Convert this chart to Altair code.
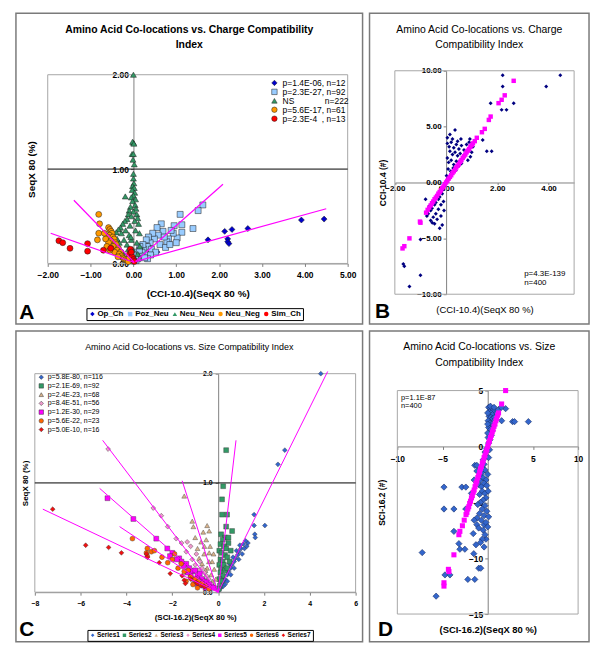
import altair as alt
import pandas as pd

FONT = "Liberation Sans"
MAG = "#ff00ff"
AXC = "#808080"
NB = "\u00a0"

# ================= Panel A data =================
A_series = ["Op_Ch", "Poz_Neu", "Neu_Neu", "Neu_Neg", "Sim_Ch"]
A_labels = ["p=1.4E-06, n=12", "p=2.3E-27, n=92", "NS" + NB * 13 + "n=222",
            "p=5.6E-17, n=61", "p=2.3E-4" + NB * 2 + ", n=13"]
A_colors = ["#0000cc", "#99ccff", "#339966", "#ff9900", "#ff0000"]
A_shapes = ["diamond", "square", "triangle-up", "circle", "circle"]
A_xticks = [-2, -1, 0, 1, 2, 3, 4, 5]
A_yticks = [0, 1, 2]

A_OpCh_x = [0.20, 0.37, 0.55, 1.74, 2.13, 2.20, 2.20, 2.23, 2.30, 2.67, 3.92, 4.45]
A_OpCh_y = [0.08, 0.20, 0.12, 0.25, 0.34, 0.26, 0.23, 0.21, 0.36, 0.37, 0.46, 0.47]

A_PozNeu_x = [1.62, 1.51, 1.39, 1.09, 1.13, 1.13, 1.02, 0.93, 0.82, 0.78, 0.69, 0.58, 0.49, 0.39, 0.32,
              0.24, 0.16, 0.12, 0.95, 0.88, 0.72, 0.65, 0.55, 0.45, 0.42, 0.35, 0.30, 0.28, 0.22, 0.20,
              0.18, 0.15, 0.10, 0.08, 0.06, 0.05, 0.62, 0.52, 0.75, 0.85, 1.00, 0.40, 0.33, 0.26, 0.14]
A_PozNeu_y = [0.62, 0.56, 0.37, 0.52, 0.41, 0.33, 0.27, 0.32, 0.26, 0.23, 0.34, 0.30, 0.26, 0.22, 0.18,
              0.15, 0.11, 0.06, 0.40, 0.35, 0.28, 0.42, 0.38, 0.32, 0.15, 0.28, 0.25, 0.10, 0.20, 0.12,
              0.08, 0.18, 0.05, 0.12, 0.03, 0.08, 0.20, 0.12, 0.17, 0.20, 0.22, 0.09, 0.05, 0.06, 0.14]

A_NeuNeu_x = [0.00, 0.00, -0.02, 0.01, -0.03, 0.00, 0.00, 0.02, -0.01, 0.00, 0.01, -0.02, 0.02, -0.03,
              0.03, 0.00, -0.05, 0.05, -0.02, 0.04, -0.07, 0.06, -0.10, 0.00, -0.12, 0.08, -0.05, 0.10,
              -0.15, -0.20, 0.03, -0.25, 0.12, -0.08, -0.19, -0.30, -0.35, -0.40, -0.45, -0.28, -0.18,
              -0.10, 0.05, 0.14, -0.22, -0.33, -0.15, -0.05, 0.08, 0.15, -0.12, -0.25, -0.02, 0.10,
              -0.08, 0.04, -0.17, -0.38, 0.00, -0.06]
A_NeuNeu_y = [2.00, 1.28, 1.29, 1.27, 1.16, 1.16, 0.95, 1.05, 1.10, 0.90, 0.85, 0.82, 0.80, 0.78,
              0.75, 0.72, 0.70, 0.68, 0.66, 0.62, 0.60, 0.58, 0.56, 0.55, 0.52, 0.52, 0.50, 0.48,
              0.47, 0.45, 0.45, 0.42, 0.42, 0.40, 0.71, 0.38, 0.36, 0.33, 0.28, 0.32, 0.35,
              0.30, 0.35, 0.32, 0.25, 0.22, 0.20, 0.25, 0.22, 0.18, 0.15, 0.12, 0.15, 0.10,
              0.08, 0.05, 0.06, 0.26, 0.03, 0.28]

A_NeuNeg_x = [-0.81, -0.79, -0.81, -0.84, -0.58, -0.55, -0.52, -0.50, -0.56, -0.60, -0.48, -0.45,
              -0.53, -0.58, -0.42, -0.40, -0.47, -0.52, -0.35, -0.38, -0.44, -0.30, -0.33, -0.28,
              -0.25, -0.36, -0.22, -0.18, -0.15, -0.12, -0.65, -0.62, -0.55, -0.68, -0.10]
A_NeuNeg_y = [0.52, 0.42, 0.32, 0.25, 0.38, 0.36, 0.34, 0.32, 0.30, 0.28, 0.28, 0.26,
              0.24, 0.22, 0.22, 0.20, 0.18, 0.16, 0.16, 0.14, 0.12, 0.12, 0.10, 0.08,
              0.06, 0.07, 0.05, 0.04, 0.03, 0.02, 0.26, 0.18, 0.14, 0.32, 0.06]

A_SimCh_x = [-1.74, -1.65, -1.48, -1.07, -1.07, -0.70, -0.53, -0.07, -0.09, -0.03, 0.00, -0.05, 0.02]
A_SimCh_y = [0.24, 0.22, 0.16, 0.21, 0.13, 0.14, 0.16, 0.15, 0.10, 0.07, 0.04, 0.12, 0.02]

A_line_g = ["Op_Ch", "Op_Ch", "Poz_Neu", "Poz_Neu", "Neu_Neg", "Neu_Neg", "Sim_Ch", "Sim_Ch"]
A_line_x = [0.05, 4.50, 0.05, 2.09, 0.02, -1.39, 0.02, -1.93]
A_line_y = [0.02, 0.58, 0.02, 0.84, 0.01, 0.67, 0.01, 0.32]

# ================= Panel B data =================
B_xticks = [-2, 0, 2, 4]
B_yticks = [-10, -5, 0, 5, 10]
B_navy_x = [4.46, 3.91, 2.21, 2.21, 2.17, 2.36, 2.64, 1.74, 0.35, 1.43, 1.59, 1.78, 0.58, 0.93, 1.05, 0.80, 0.70, 0.95,
            0.05, 0.12, 0.20, 0.30, 0.40, 0.50, 0.60, 0.15, 0.25, 0.35, 0.45, 0.55, 0.65, 0.75,
            0.05, 0.10, 0.20, 0.30, 0.40, 0.50, 0.60, 0.08, 0.18, 0.28, 0.38, 0.02, 0.12, 0.22,
            0.03, 0.10, 0.85, 1.00, 0.90, 0.25, 0.45, 0.05, 0.15,
            -0.05, -0.10, -0.15, -0.20, -0.25, -0.30, -0.35, -0.40, -0.45, -0.50, -0.55, -0.60, -0.65, -0.70, -0.75,
            -0.30, -0.20, -0.10, -0.40, -0.50, -0.35, -0.20, -0.60, -0.15, -0.25, -0.45, -0.08, -0.54,
            -1.00, -1.67, -1.63, -1.00, -1.43, -0.80]
B_navy_y = [9.6, 8.6, 9.6, 8.6, 6.5, 6.5, 7.1, 7.1, 4.7, 3.8, 2.8, 2.8, 3.9, 3.9, 3.2, 3.4, 2.9, 2.3,
            3.5, 3.2, 3.6, 3.1, 3.4, 3.0, 3.3, 2.8, 2.5, 2.7, 2.4, 2.6, 2.2, 2.5,
            2.2, 1.8, 2.0, 1.6, 1.9, 1.5, 1.7, 1.2, 1.0, 1.3, 1.1, 0.6, 0.5, 0.8,
            0.2, 0.3, 2.0, 2.7, 3.6, 3.9, 3.7, 4.0, 4.3,
            -0.3, -0.6, -1.0, -0.8, -1.3, -1.5, -1.2, -1.8, -2.0, -1.7, -2.3, -2.5, -2.1, -2.8, -3.0,
            -2.4, -2.0, -1.7, -2.8, -3.1, -3.3, -3.0, -3.4, -3.8, -4.1, -3.7, -2.5, -3.6,
            -5.1, -7.3, -7.5, -8.3, -9.3, -1.5]
B_mag_x = [-0.78, -0.72, -0.66, -0.60, -0.55, -0.50, -0.45, -0.40, -0.35, -0.30, -0.25, -0.20, -0.15,
           -0.10, -0.05, 0.00, 0.05, 0.10, 0.15, 0.20, 0.25, 0.30, 0.35, 0.40, 0.45, 0.50, 0.55, 0.60,
           0.65, 0.70, 0.75, 0.80, 0.85, 0.90, 0.95, 1.00, 1.05, 1.12,
           1.20, 1.40, 1.51, 1.67, 1.74, 2.05, 2.17, 2.29, 2.64, -1.00, -1.02, -1.43, -1.63, -1.70]
B_mag_y = [-2.7, -2.45, -2.25, -2.05, -1.85, -1.7, -1.5, -1.35, -1.2, -1.0, -0.85, -0.7, -0.5,
           -0.35, -0.15, 0.0, 0.15, 0.35, 0.5, 0.65, 0.85, 1.0, 1.15, 1.35, 1.5, 1.65, 1.85, 2.0,
           2.2, 2.35, 2.5, 2.7, 2.85, 3.0, 3.2, 3.35, 3.5, 3.7,
           4.0, 4.5, 4.8, 5.6, 5.9, 7.1, 7.4, 7.8, 9.1, -3.6, -3.5, -5.0, -5.7, -5.9]
B_note = ["p=4.3E-139", "n=400"]

# ================= Panel C data =================
C_series = ["Series1", "Series2", "Series3", "Series4", "Series5", "Series6", "Series7"]
C_labels = ["p=5.8E-80, n=116", "p=2.1E-69, n=92", "p=2.4E-23, n=68", "p=8.4E-51, n=56",
            "p=1.2E-30, n=29", "p=5.6E-22, n=23", "p=5.0E-10, n=16"]
C_colors = ["#3366cc", "#339966", "#d9b38c", "#ee99cc", "#ff00ff", "#ff6600", "#ee1111"]
C_shapes = ["diamond", "square", "triangle-up", "diamond", "square", "circle", "diamond"]
C_xticks = [-8, -6, -4, -2, 0, 2, 4, 6]
C_yticks = [0, 1, 2]

C_S1_x = [4.48, 2.91, 2.61, 1.57, 2.04, 1.57, 1.60, 1.62, 1.30, 1.20, 1.10, 1.00, 0.95, 0.90, 0.85, 0.80,
          0.75, 0.70, 0.65, 0.60, 0.55, 0.50, 0.45, 0.40, 0.35, 0.30, 0.25, 0.20, 0.15, 0.10, 0.05,
          1.05, 0.90, 0.70, 0.55, 0.40, 0.30, 0.20, 1.15, 1.25]
C_S1_y = [2.00, 1.30, 1.17, 0.71, 0.61, 0.61, 0.53, 0.50, 0.45, 0.47, 0.44, 0.40, 0.43, 0.37, 0.34, 0.38,
          0.31, 0.28, 0.32, 0.25, 0.22, 0.26, 0.19, 0.16, 0.20, 0.12, 0.10, 0.14, 0.06, 0.04, 0.02,
          0.35, 0.30, 0.22, 0.16, 0.10, 0.07, 0.05, 0.40, 0.42]
C_S2_x = [0.35, 0.22, 0.17, 0.17, 0.39, 0.35, 0.61, 0.13, 0.30, 0.20, 0.45, 0.10, 0.25, 0.35, 0.05,
          0.15, 0.30, 0.40, 0.10, 0.20, 0.50, 0.05, 0.15, 0.30, 0.10, 0.20, 0.05, 0.15, 0.08, 0.03,
          0.25, 0.40, 0.45, 0.55]
C_S2_y = [1.30, 0.97, 0.85, 0.71, 0.71, 0.60, 0.56, 0.53, 0.50, 0.48, 0.45, 0.44, 0.42, 0.40, 0.38,
          0.36, 0.34, 0.32, 0.30, 0.28, 0.28, 0.25, 0.22, 0.20, 0.18, 0.15, 0.12, 0.10, 0.06, 0.03,
          0.25, 0.22, 0.50, 0.38]
C_S3_x = [-1.48, -1.13, -1.08, -0.48, -0.39, -0.74, -0.52, -0.61, -0.39, -0.83, -0.26, -0.70, -0.48,
          -0.17, -0.30, -0.90, -0.60, -0.35, -0.20, -0.10, -0.55, -0.25, -0.15, -0.40, -1.00, -0.65]
C_S3_y = [0.88, 0.65, 0.60, 0.61, 0.56, 0.46, 0.48, 0.35, 0.36, 0.31, 0.28, 0.26, 0.22,
          0.21, 0.16, 0.40, 0.42, 0.42, 0.35, 0.12, 0.20, 0.10, 0.05, 0.28, 0.50, 0.55]
C_S4_x = [-4.80, -2.83, -2.48, -1.83, -1.35, -1.39, -1.13, -1.20, -0.95, -0.80, -0.70, -1.00, -0.60,
          -0.50, -0.40, -0.30, -0.20, -0.85, -0.65, -0.45, -1.60, -1.10, -0.90, -2.20]
C_S4_y = [1.31, 0.77, 0.70, 0.49, 0.46, 0.37, 0.30, 0.42, 0.35, 0.28, 0.22, 0.25, 0.18,
          0.15, 0.12, 0.08, 0.05, 0.20, 0.12, 0.08, 0.45, 0.20, 0.15, 0.60]
C_S5_x = [-4.83, -3.70, -2.70, -2.22, -2.00, -1.70, -1.39, -1.26, -1.13, -1.00, -0.90, -0.80, -0.70,
          -0.60, -0.50, -0.40, -0.30, -0.20, -1.50, -1.60, -1.80, -1.05, -0.85, -0.65, -1.20, -0.95,
          -1.35, -0.55, -2.10]
C_S5_y = [0.86, 0.67, 0.49, 0.40, 0.36, 0.31, 0.26, 0.22, 0.19, 0.20, 0.15, 0.17, 0.12,
          0.10, 0.09, 0.07, 0.05, 0.04, 0.24, 0.28, 0.30, 0.12, 0.10, 0.06, 0.15, 0.08,
          0.18, 0.04, 0.33]
C_S6_x = [-3.74, -3.09, -2.91, -2.78, -3.13, -3.09, -2.00, -1.61, -1.48, -1.90, -1.75, -1.30, -1.20,
          -1.00, -0.85, -0.70, -0.55, -1.40, -2.20, -0.40, -1.10, -0.90, -2.45]
C_S6_y = [0.49, 0.40, 0.37, 0.38, 0.36, 0.33, 0.30, 0.26, 0.19, 0.35, 0.22, 0.20, 0.14,
          0.12, 0.10, 0.08, 0.06, 0.10, 0.27, 0.03, 0.07, 0.04, 0.32]
C_S7_x = [-7.22, -5.78, -4.78, -4.22, -3.13, -3.09, -2.57, -2.09, -1.57, -1.48, -1.43, -0.96, -0.90,
          -0.75, -0.60, -1.20]
C_S7_y = [0.76, 0.43, 0.41, 0.36, 0.35, 0.32, 0.27, 0.17, 0.15, 0.11, 0.08, 0.09, 0.08,
          0.06, 0.05, 0.12]

C_line_g = ["S1", "S1", "S2", "S2", "S3", "S3", "S4", "S4", "S5", "S5", "S6", "S6", "S7", "S7"]
C_line_x = [0.0, 4.78, 0.0, 0.78, 0.0, -1.57, 0.0, -5.04, 0.0, -5.17, 0.0, -4.30, 0.0, -7.65]
C_line_y = [0.0, 2.02, 0.0, 1.39, 0.0, 1.02, 0.0, 1.39, 0.0, 0.95, 0.0, 0.60, 0.0, 0.76]

# ================= Panel D data =================
D_xticks = [-10, -5, 5, 10]
D_yticks = [-15, -10, -5, 0, 5]
D_blue_x = [1.98, 1.54, 2.75, 2.97, 4.50, -4.84, -2.86, -2.42, -1.43, -1.20, -4.84, -3.74, -2.42, -3.74,
            -3.19, -3.08, -2.53, -7.25, -4.73, -4.18, -5.71, -2.20, -1.43, -0.99, -0.77, -1.54, -1.20,
            -0.40, -0.20, -0.60,
            0.10, 0.30, 0.50, 0.20, 0.40, 0.60, 0.80, 1.00, 0.15, 0.35, 0.55, 0.75, 0.90, 0.05, 0.25,
            0.45, 0.65, 0.10, 0.30, 0.50, 0.20, 0.40, 0.05, 0.25, 0.10, 0.30, 0.70, 1.20, 1.50, 0.00,
            0.00, 0.00,
            -0.10, -0.30, -0.20, -0.50, -0.40, -0.70, -0.60, -0.30, -0.90, -0.80, -0.50, -0.20, -1.00,
            -0.70, -0.40, -0.10, -0.60, -0.30, -0.90, -0.20, -0.50, -0.80, -1.10, -0.30, -0.60, -0.10,
            -0.90, -0.40, -1.20, -0.70, -0.20, -1.50, -1.00, -0.50, -1.60, -0.30, -0.80, -1.30, -0.40,
            -1.80, -1.50, -1.20, 0.10, 0.20, 0.00, 0.05, 0.10, 0.00]
D_blue_y = [3.38, 2.30, 2.22, 2.22, 2.22, -3.64, -3.64, -3.64, -1.69, -1.69, -5.60, -5.60, -5.60, -7.60,
            -8.70, -9.20, -9.20, -9.50, -11.50, -11.50, -13.40, -11.90, -11.90, -10.90, -10.90, -9.60, -7.00,
            -7.00, -8.30, -8.30,
            3.5, 3.4, 3.3, 3.1, 3.0, 2.9, 3.2, 3.0, 2.7, 2.6, 2.5, 2.6, 2.4, 2.3, 2.1,
            2.0, 1.9, 1.7, 1.5, 1.4, 1.1, 1.0, 0.8, 0.6, 0.3, 3.6, 3.5, 3.3, 3.5, 3.0,
            2.0, 1.2,
            -0.2, -0.5, -0.9, -1.2, -1.6, -1.9, -2.3, -2.1, -2.6, -3.0, -2.8, -3.0, -3.4,
            -3.6, -3.3, -3.5, -4.0, -4.2, -4.3, -4.6, -4.8, -5.0, -5.2, -5.3, -5.6, -5.8,
            -6.0, -6.2, -6.4, -6.6, -6.8, -6.6, -7.3, -7.5, -7.8, -7.9, -8.6, -8.8, -9.0,
            -4.2, -3.0, -2.2, -1.0, -0.3, -2.5, -4.0, -6.3, -7.2]
D_mag_x = [1.98, 1.54, 1.20, 1.10, 1.00, 0.90, 0.80, 0.70, 0.60, 0.50, 0.40, 0.30, 0.20, 0.10, 0.00,
           -0.10, -0.20, -0.30, -0.40, -0.50, -0.60, -0.70, -0.80, -0.90, -1.00, -1.10, -1.20, -1.30,
           -1.40, -1.50, -1.60, -1.70, -1.80, -1.90, -2.00, -2.10, -2.20, -2.30, -2.40, -2.60, -2.80,
           -3.08, -3.19, -3.74, -4.29, -4.35, -4.84, -4.84]
D_mag_y = [5.0, 3.8, 3.0, 2.8, 2.5, 2.3, 2.0, 1.8, 1.5, 1.3, 1.0, 0.8, 0.5, 0.3, 0.0,
           -0.3, -0.5, -0.8, -1.0, -1.3, -1.5, -1.8, -2.0, -2.3, -2.6, -2.8, -3.1, -3.3,
           -3.6, -3.9, -4.1, -4.4, -4.6, -4.9, -5.1, -5.4, -5.6, -5.9, -6.1, -6.6, -7.1,
           -7.6, -7.9, -9.7, -11.2, -11.0, -12.5, -12.2]
D_note = ["p=1.1E-87", "n=400"]


# ================= helpers =================
def xy_df(xs, ys, **extra):
    rows = []
    for a, b in zip(xs, ys):
        r = {"x": a, "y": b}
        r.update(extra)
        rows.append(r)
    return pd.DataFrame(rows)


def series_df(xs_list, ys_list, names, labels):
    frames = [xy_df(xs, ys, ser=n, lab=l) for xs, ys, n, l in zip(xs_list, ys_list, names, labels)]
    return pd.concat(frames, ignore_index=True)


def x_axis(values, fmt, offset, title, title_y, lab_size, title_size, title_weight, lab_pad, tick=3):
    return alt.Axis(values=values, format=fmt, offset=offset, title=title, titleY=title_y,
                    titleBaseline="middle", titleFont=FONT, titleFontSize=title_size,
                    titleFontWeight=title_weight, titleColor="black",
                    labelFont=FONT, labelFontSize=lab_size, labelFontWeight="bold",
                    labelColor="black", labelFlush=False, labelOverlap=False,
                    labelPadding=lab_pad, tickSize=tick, tickColor=AXC,
                    domainColor=AXC, domainWidth=1, grid=False)


def y_axis(values, fmt, offset, title, title_x, lab_size, title_size, title_weight, lab_pad, tick=3):
    return alt.Axis(values=values, format=fmt, offset=offset, title=title, titleX=title_x,
                    titleAngle=270, titleAlign="center", titleBaseline="middle",
                    titleFont=FONT, titleFontSize=title_size, titleFontWeight=title_weight,
                    titleColor="black", labelFont=FONT, labelFontSize=lab_size,
                    labelFontWeight="bold", labelColor="black", labelFlush=False,
                    labelOverlap=False, labelPadding=lab_pad, tickSize=tick, tickColor=AXC,
                    domainColor=AXC, domainWidth=1, grid=False)


def box_layer(X, Y, x0, x1, y0, y1):
    d = pd.DataFrame({"x": [x0], "x2": [x1], "y": [y0], "y2": [y1]})
    return alt.Chart(d).mark_rect(fillOpacity=0, stroke="#a6a6a6", strokeWidth=1).encode(
        x=X, x2="x2:Q", y=Y, y2="y2:Q")


def grid_layer(X, Y, x0, x1, yv):
    d = pd.DataFrame({"x": [x0], "x2": [x1], "y": [yv]})
    return alt.Chart(d).mark_rule(color="black", strokeWidth=1).encode(x=X, x2="x2:Q", y=Y)


def letter_layer(t, px, py):
    return alt.Chart(pd.DataFrame({"t": [t]})).mark_text(
        font=FONT, fontSize=21, fontWeight="bold", color="black", align="center",
        baseline="middle").encode(x=alt.value(px), y=alt.value(py), text="t:N")


def title(lines, size, weight, offset):
    return alt.TitleParams(text=lines, font=FONT, fontSize=size, fontWeight=weight,
                           color="black", anchor="middle", offset=offset, lineHeight=16)


PH = 313  # panel height

# ================= Panel A =================
def panel_A():
    W, H = 349, PH
    xs = alt.Scale(domain=[-2, 5], range=[32, 334], nice=False, zero=False)
    ys = alt.Scale(domain=[0, 2], range=[252, 62], nice=False, zero=False)
    X = alt.X("x:Q", scale=xs, axis=x_axis(A_xticks, ".2f", -(H - 252), "(CCI-10.4)(SeqX 80 %)", 30,
                                           8.5, 10, "bold", 4))
    Y = alt.Y("y:Q", scale=ys, axis=y_axis(A_yticks, ".2f", -118.3, "SeqX 80 (%)", -103,
                                           8.5, 10, "bold", 2))
    df = series_df([A_OpCh_x, A_PozNeu_x, A_NeuNeu_x, A_NeuNeg_x, A_SimCh_x],
                   [A_OpCh_y, A_PozNeu_y, A_NeuNeu_y, A_NeuNeg_y, A_SimCh_y],
                   A_series, A_labels)
    leg_top = alt.Legend(orient="none", legendX=256, legendY=66, title=None, labelFont=FONT,
                         labelFontSize=8.5, labelColor="black", symbolSize=30, rowPadding=0,
                         labelOffset=4, symbolStrokeWidth=0.5)
    pts = alt.Chart(df).mark_point(filled=True, size=36, opacity=1, stroke="#1a1a1a",
                                   strokeWidth=0.5).encode(
        x=X, y=Y,
        color=alt.Color("lab:N", scale=alt.Scale(domain=A_labels, range=A_colors), legend=leg_top),
        shape=alt.Shape("lab:N", scale=alt.Scale(domain=A_labels, range=A_shapes), legend=leg_top))
    leg_bot = alt.Legend(orient="none", legendX=71, legendY=297, direction="horizontal",
                         columns=5, title=None, labelFont=FONT, labelFontSize=8,
                         labelFontWeight="bold", labelColor="black", symbolSize=20,
                         strokeColor="black", padding=2, columnPadding=2, labelOffset=1,
                         symbolStrokeWidth=0.5)
    dummy = alt.Chart(df).transform_filter("false").mark_point(filled=True, size=36, opacity=1).encode(
        x=X, y=Y,
        color=alt.Color("ser:N", scale=alt.Scale(domain=A_series, range=A_colors), legend=leg_bot),
        shape=alt.Shape("ser:N", scale=alt.Scale(domain=A_series, range=A_shapes), legend=leg_bot))
    ldf = pd.DataFrame({"g": A_line_g, "x": A_line_x, "y": A_line_y})
    lines = alt.Chart(ldf).mark_line(color=MAG, strokeWidth=1.2).encode(x=X, y=Y, detail="g:N")
    return alt.layer(box_layer(X, Y, -2, 5, 0, 2), grid_layer(X, Y, -2, 5, 1), pts, lines, dummy,
                     letter_layer("A", 11, 302)).resolve_scale(
        color="independent", shape="independent").properties(
        width=W, height=H,
        title=title(["Amino Acid Co-locations vs. Charge Compatibility", "Index"], 10.5, "bold", -38))


# ================= Panel B =================
def panel_B():
    W, H = 221, PH
    xs = alt.Scale(domain=[-2, 5], range=[25.5, 206], nice=False, zero=False)
    ys = alt.Scale(domain=[-10, 10], range=[283, 58], nice=False, zero=False)
    X = alt.X("x:Q", scale=xs, axis=x_axis(B_xticks, ".2f", -(H - 170.5), "(CCI-10.4)(SeqX 80 %)", 127.5,
                                           8, 9.5, "normal", 0, tick=2))
    Y = alt.Y("y:Q", scale=ys, axis=y_axis(B_yticks, ".2f", -77.1, "CCI-10.4 (#)", -64,
                                           8, 8.5, "bold", 2))
    navy = alt.Chart(xy_df(B_navy_x, B_navy_y)).mark_point(
        filled=True, shape="diamond", size=16, opacity=1, color="#000080").encode(x=X, y=Y)
    mag = alt.Chart(xy_df(B_mag_x, B_mag_y)).mark_point(
        filled=True, shape="square", size=20, opacity=1, color=MAG).encode(x=X, y=Y)
    note = alt.Chart(pd.DataFrame({"x": [3.05, 3.05], "y": [-8.2, -9.0], "t": B_note})).mark_text(
        font=FONT, fontSize=8, color="black", align="left", baseline="middle").encode(
        x=X, y=Y, text="t:N")
    return alt.layer(box_layer(X, Y, -2, 5, -10, 10), navy, mag, note,
                     letter_layer("B", 13, 301)).properties(
        width=W, height=H,
        title=title(["Amino Acid Co-locations vs. Charge", "Compatibility Index"], 10.5, "normal", -38))


# ================= Panel C =================
def panel_C():
    W, H = 349, PH
    xs = alt.Scale(domain=[-8, 6], range=[19, 342], nice=False, zero=False)
    ys = alt.Scale(domain=[0, 2], range=[263, 43], nice=False, zero=False)
    X = alt.X("x:Q", scale=xs, axis=x_axis(C_xticks, "d", -(H - 263), "(SCI-16.2)(SeqX 80 %)", 26,
                                           7, 8, "bold", 4))
    Y = alt.Y("y:Q", scale=ys, axis=y_axis(C_yticks, ".1f", -203.6, "SeqX 80 (%)", -193.6,
                                           7, 8, "bold", 3))
    df = series_df([C_S1_x, C_S2_x, C_S3_x, C_S4_x, C_S5_x, C_S6_x, C_S7_x],
                   [C_S1_y, C_S2_y, C_S3_y, C_S4_y, C_S5_y, C_S6_y, C_S7_y],
                   C_series, C_labels)
    leg_top = alt.Legend(orient="none", legendX=22, legendY=43, title=None, labelFont=FONT,
                         labelFontSize=7, labelColor="black", symbolSize=20, rowPadding=0.8,
                         labelOffset=3, symbolStrokeWidth=0.5)
    pts = alt.Chart(df).mark_point(filled=True, size=24, opacity=1, stroke="#333333",
                                   strokeWidth=0.4).encode(
        x=X, y=Y,
        color=alt.Color("lab:N", scale=alt.Scale(domain=C_labels, range=C_colors), legend=leg_top),
        shape=alt.Shape("lab:N", scale=alt.Scale(domain=C_labels, range=C_shapes), legend=leg_top))
    leg_bot = alt.Legend(orient="none", legendX=72, legendY=301, direction="horizontal",
                         columns=7, title=None, labelFont=FONT, labelFontSize=6.5,
                         labelFontWeight="bold", labelColor="black", symbolSize=12,
                         strokeColor="black", padding=2, columnPadding=1, labelOffset=1,
                         symbolStrokeWidth=0.5)
    dummy = alt.Chart(df).transform_filter("false").mark_point(filled=True, size=24, opacity=1).encode(
        x=X, y=Y,
        color=alt.Color("ser:N", scale=alt.Scale(domain=C_series, range=C_colors), legend=leg_bot),
        shape=alt.Shape("ser:N", scale=alt.Scale(domain=C_series, range=C_shapes), legend=leg_bot))
    ldf = pd.DataFrame({"g": C_line_g, "x": C_line_x, "y": C_line_y})
    lines = alt.Chart(ldf).mark_line(color=MAG, strokeWidth=1).encode(x=X, y=Y, detail="g:N")
    return alt.layer(box_layer(X, Y, -8, 6, 0, 2), grid_layer(X, Y, -8, 6, 1), pts, lines, dummy,
                     letter_layer("C", 11, 301)).resolve_scale(
        color="independent", shape="independent").properties(
        width=W, height=H,
        title=title(["Amino Acid Co-locations vs. Size Compatibility Index"], 9, "normal", -21))


# ================= Panel D =================
def panel_D():
    W, H = 221, PH
    xs = alt.Scale(domain=[-10, 10], range=[28, 210], nice=False, zero=False)
    ys = alt.Scale(domain=[-15, 5], range=[285, 60], nice=False, zero=False)
    X = alt.X("x:Q", scale=xs, axis=x_axis(D_xticks, "d", -(H - 116.25), "(SCI-16.2)(SeqX 80 %)", 184,
                                           8.5, 9.5, "bold", 5))
    Y = alt.Y("y:Q", scale=ys, axis=y_axis(D_yticks, "d", -119, "SCI-16.2 (#)", -107,
                                           8.5, 8.5, "bold", 2))
    blue = alt.Chart(xy_df(D_blue_x, D_blue_y)).mark_point(
        filled=True, shape="diamond", size=40, opacity=1, color="#3366cc",
        stroke="#1a2f6b", strokeWidth=0.6).encode(x=X, y=Y)
    mag = alt.Chart(xy_df(D_mag_x, D_mag_y)).mark_point(
        filled=True, shape="square", size=26, opacity=1, color=MAG).encode(x=X, y=Y)
    note = alt.Chart(pd.DataFrame({"x": [-9.6, -9.6], "y": [4.3, 3.6], "t": D_note})).mark_text(
        font=FONT, fontSize=7.5, color="black", align="left", baseline="middle").encode(
        x=X, y=Y, text="t:N")
    return alt.layer(box_layer(X, Y, -10, 10, -15, 5), blue, mag, note,
                     letter_layer("D", 16, 301)).properties(
        width=W, height=H,
        title=title(["Amino Acid Co-locations vs. Size", "Compatibility Index"], 10.5, "normal", -38))


chart = alt.concat(panel_A(), panel_B(), panel_C(), panel_D(), columns=2,
                   spacing=7, bounds="flush").properties(
    padding={"left": 7, "top": 2, "right": 2, "bottom": 2}
).configure(font=FONT).configure_view(stroke="#7a7a7a", strokeWidth=1.5)

chart.save("out.html", embed_options={"renderer": "svg", "actions": False})
